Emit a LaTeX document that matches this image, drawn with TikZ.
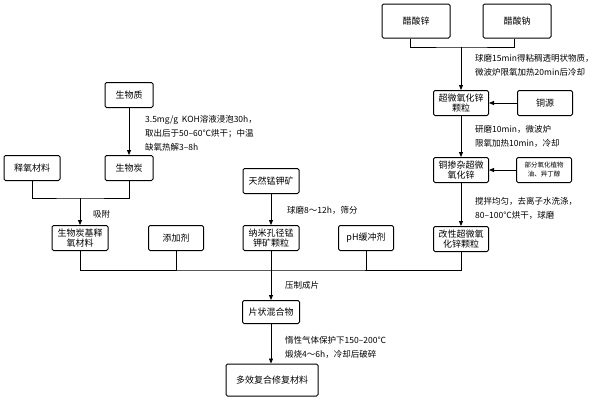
\documentclass[tikz,border=0pt]{standalone}
\usepackage{fontspec}
\setmainfont{Noto Sans CJK SC}
\usetikzlibrary{arrows.meta}
\begin{document}
\begin{tikzpicture}[x=1pt,y=-1pt,
  bx/.style={draw,rounded corners=1.5pt,line width=1pt,align=center,font=\fontsize{9}{10.5}\selectfont,inner sep=1pt},
  lb/.style={anchor=west,align=left,font=\fontsize{8.5}{14}\selectfont,inner sep=0pt},
  ar/.style={-{Triangle[length=5pt,width=4pt]},line width=0.8pt},
  ln/.style={line width=0.8pt}]
\useasboundingbox (0,0) rectangle (600,402);
\node[bx,minimum width=68,minimum height=34] (zn) at (416,21) {醋酸锌};
\node[bx,minimum width=68,minimum height=34] (na) at (517,21) {醋酸钠};
\node[bx,minimum width=55,minimum height=25] (cz) at (461,103) {超微氧化锌\\颗粒};
\node[bx,minimum width=55,minimum height=25] (cu) at (545,103) {铜源};
\node[bx,minimum width=55,minimum height=25] (cd) at (461,170) {铜掺杂超微\\氧化锌};
\node[bx,minimum width=55,minimum height=25,font=\fontsize{6.5}{9}\selectfont] (oil) at (544,170) {部分氧化植物\\油、异丁醇};
\node[bx,minimum width=55,minimum height=25] (mz) at (461,239) {改性超微氧\\化锌颗粒};
\node[bx,minimum width=48,minimum height=25] (sw) at (129,95) {生物质};
\node[bx,minimum width=48,minimum height=25] (bc) at (129,168) {生物炭};
\node[bx,minimum width=56,minimum height=25] (sy) at (32,168) {释氧材料};
\node[bx,minimum width=56,minimum height=25] (bs) at (80,238) {生物炭基释\\氧材料};
\node[bx,minimum width=55,minimum height=25] (tj) at (176,238) {添加剂};
\node[bx,minimum width=56,minimum height=25] (tr) at (271,181) {天然锰钾矿};
\node[bx,minimum width=56,minimum height=25] (nm) at (271,238) {纳米孔径锰\\钾矿颗粒};
\node[bx,minimum width=55,minimum height=25] (ph) at (366,238) {pH缓冲剂};
\node[bx,minimum width=57,minimum height=23] (pz) at (271,312) {片状混合物};
\node[bx,minimum width=92,minimum height=32] (dx) at (272,380) {多效复合修复材料};
\coordinate (j1) at (461,47);
\coordinate (j2) at (80,198);
\coordinate (bus) at (271,270);
\draw[ln] (zn.south -| 410,0) |- (j1) -| (na.south -| 514,0);
\draw[ar] (j1) -- (cz);
\draw[ar] (cu) -- (cz);
\draw[ar] (cz) -- (cd);
\draw[ar] (oil) -- (cd);
\draw[ar] (cd) -- (mz);
\draw[ar] (sw) -- (bc);
\draw[ln] (sy.south) |- (j2) -| (bc.south);
\draw[ar] (j2) -- (bs);
\draw[ar] (tr) -- (nm);
\draw[ln] (bs.south) |- (bus) -| (mz.south);
\draw[ln] (tj.south) -- (tj.south |- bus);
\draw[ln] (nm.south) -- (bus);
\draw[ln] (ph.south) -- (ph.south |- bus);
\draw[ar] (bus) -- (pz);
\draw[ar] (pz) -- (pz.south |- dx.north);
\node[lb] (t1) at (475,65) {球磨15min得粘稠透明状物质，\\微波炉限氧加热20min后冷却};
\node[lb] (t2) at (475,136) {研磨10min，微波炉\\限氧加热10min，冷却};
\node[lb] (t3) at (475,208) {搅拌均匀，去离子水洗涤，\\80–100℃烘干，球磨};
\node[lb] (t4) at (145,133) {3.5mg/g\ \ KOH溶液浸泡30h，\\取出后于50–60℃烘干；中温\\缺氧热解3–8h};
\node[lb] (t5) at (93,214) {吸附};
\node[lb] (t6) at (287,210) {球磨8～12h，筛分};
\node[lb] (t7) at (285,285) {压制成片};
\node[lb] (t8) at (285,347) {惰性气体保护下150–200℃\\煅烧4～6h，冷却后破碎};
\end{tikzpicture}
\end{document}
